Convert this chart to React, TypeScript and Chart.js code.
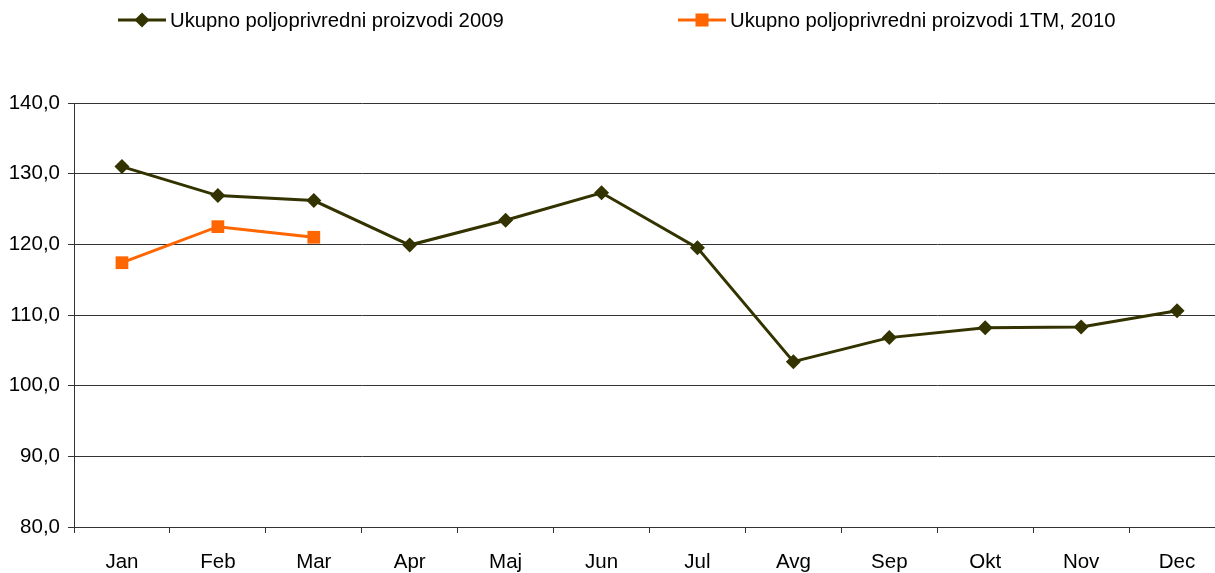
import React, { useEffect, useRef } from "react";
import { Chart, registerables } from "chart.js";

Chart.register(...registerables);

const categories = ["Jan", "Feb", "Mar", "Apr", "Maj", "Jun", "Jul", "Avg", "Sep", "Okt", "Nov", "Dec"];
const series2009 = [131.0, 126.9, 126.2, 119.9, 123.4, 127.3, 119.5, 103.4, 106.8, 108.2, 108.3, 110.6];
const series2010 = [117.4, 122.5, 121.0];
const label2009 = "Ukupno poljoprivredni proizvodi 2009";
const label2010 = "Ukupno poljoprivredni proizvodi 1TM, 2010";
const yTicks = [80, 90, 100, 110, 120, 130, 140];

const COLOR_2009 = "#333300";
const COLOR_2010 = "#FF6600";
const FONT = "'Liberation Sans', Arial, Helvetica, sans-serif";

function LegendItem({ left, color, marker, text }: { left: number; color: string; marker: "diamond" | "square"; text: string }) {
  return (
    <div style={{ position: "absolute", left, top: 8, height: 24, display: "flex", alignItems: "center", fontFamily: FONT, fontSize: 20.3, color: "#000", whiteSpace: "nowrap" }}>
      <svg width={48} height={24} style={{ display: "block" }}>
        <line x1={0} y1={12} x2={48} y2={12} stroke={color} strokeWidth={3} />
        {marker === "diamond" ? (
          <polygon points="24,4.5 31.5,12 24,19.5 16.5,12" fill={color} />
        ) : (
          <rect x={17.5} y={5.5} width={13} height={13} fill={color} />
        )}
      </svg>
      <span style={{ marginLeft: 4, lineHeight: "24px" }}>{text}</span>
    </div>
  );
}

export default function App() {
  const ref = useRef<HTMLCanvasElement | null>(null);

  useEffect(() => {
    if (!ref.current) return;
    const chart = new Chart(ref.current, {
      type: "line",
      data: {
        labels: categories,
        datasets: [
          {
            label: label2009,
            data: series2009,
            borderColor: COLOR_2009,
            backgroundColor: COLOR_2009,
            borderWidth: 3,
            pointStyle: "rectRot",
            pointRadius: 7.5,
            pointBorderWidth: 0,
            pointBackgroundColor: COLOR_2009,
            tension: 0,
          },
          {
            label: label2010,
            data: series2010,
            borderColor: COLOR_2010,
            backgroundColor: COLOR_2010,
            borderWidth: 3,
            pointStyle: "rect",
            pointRadius: 9,
            pointBorderWidth: 0,
            pointBackgroundColor: COLOR_2010,
            tension: 0,
          },
        ],
      },
      options: {
        responsive: false,
        animation: false,
        layout: { padding: { top: 103, left: 0, right: 0, bottom: 0 } },
        plugins: {
          legend: { display: false },
          tooltip: { enabled: false },
        },
        scales: {
          x: {
            offset: true,
            grid: {
              offset: true,
              drawOnChartArea: false,
              drawTicks: true,
              tickLength: 6,
              color: "#333",
            },
            border: { display: true, color: "#333", width: 1 },
            ticks: {
              color: "#000",
              font: { family: FONT, size: 20.5 },
              padding: 17,
              maxRotation: 0,
              autoSkip: false,
            },
            afterFit: (scale: any) => {
              scale.height = 46;
            },
          },
          y: {
            min: 80,
            max: 140,
            afterBuildTicks: (scale: any) => {
              scale.ticks = yTicks.map((v) => ({ value: v }));
            },
            grid: {
              color: "#333",
              lineWidth: 1,
              drawTicks: true,
              tickLength: 6,
            },
            border: { display: true, color: "#333", width: 1 },
            ticks: {
              color: "#000",
              font: { family: FONT, size: 20.5 },
              padding: 8,
              callback: (v: any) => Number(v).toFixed(1).replace(".", ","),
            },
            afterFit: (scale: any) => {
              scale.width = 74;
            },
          },
        },
      },
    });
    return () => chart.destroy();
  }, []);

  return (
    <div style={{ position: "absolute", left: 0, top: 0, width: 1215, height: 573, overflow: "hidden", background: "#fff" }}>
      <canvas ref={ref} width={1234} height={573} style={{ position: "absolute", left: 0, top: 0 }} />
      <LegendItem left={118} color={COLOR_2009} marker="diamond" text={label2009} />
      <LegendItem left={678} color={COLOR_2010} marker="square" text={label2010} />
    </div>
  );
}
